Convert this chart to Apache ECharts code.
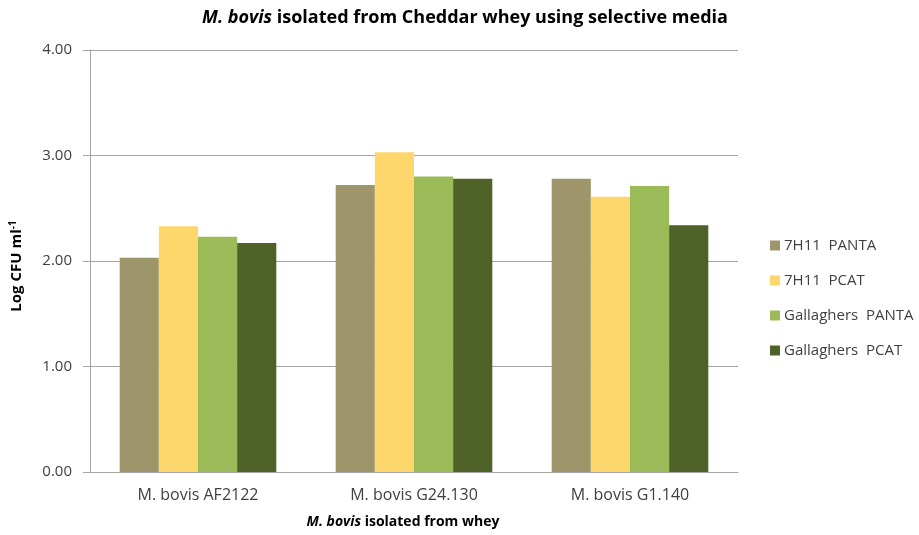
<!DOCTYPE html>
<html>
<head>
<meta charset="utf-8">
<script src="https://cdn.jsdelivr.net/npm/echarts@6/dist/echarts.min.js"></script>
<style>
  html, body { margin: 0; padding: 0; background: #fff; }
  #chart { width: 919px; height: 535px; }
</style>
</head>
<body>
<div id="chart"></div>
<script>
// Strains tested and log counts recovered on each selective medium
const strains = ['M. bovis AF2122', 'M. bovis G24.130', 'M. bovis G1.140'];
const panta7H11 = [2.03, 2.72, 2.78];
const pcat7H11 = [2.33, 3.03, 2.61];
const pantaGallaghers = [2.23, 2.80, 2.71];
const pcatGallaghers = [2.17, 2.78, 2.34];
const yTicks = [0, 1, 2, 3, 4];

const seriesNames = ['7H11  PANTA', '7H11  PCAT', 'Gallaghers  PANTA', 'Gallaghers  PCAT'];
const seriesColors = ['#9e966a', '#fdd76b', '#9bbb59', '#4f6228'];
const seriesData = [panta7H11, pcat7H11, pantaGallaghers, pcatGallaghers];

const FONT = '"Open Sans", "Noto Sans", sans-serif';
const chart = echarts.init(document.getElementById('chart'));

chart.setOption({
  animation: false,
  textStyle: { fontFamily: FONT },
  title: {
    text: '{i|M. bovis}{n| isolated from Cheddar whey using selective media}',
    left: 460,
    textAlign: 'center',
    top: 4,
    textStyle: {
      rich: {
        i: { fontFamily: FONT, fontSize: 18, fontWeight: 'bold', fontStyle: 'italic', color: '#000' },
        n: { fontFamily: FONT, fontSize: 18, fontWeight: 'bold', color: '#000' }
      }
    }
  },
  legend: {
    orient: 'vertical',
    left: 765,
    top: 233,
    itemWidth: 10,
    itemHeight: 10,
    itemGap: 20,
    icon: 'rect',
    textStyle: { fontFamily: FONT, fontSize: 15, color: '#404040', padding: [0, 0, 0, -1] },
    data: seriesNames
  },
  grid: { left: 84, right: 181, top: 50, bottom: 63, containLabel: false },
  xAxis: {
    type: 'category',
    data: strains,
    name: '{i|M. bovis}{n| isolated from whey}',
    nameLocation: 'middle',
    nameGap: 43,
    nameTextStyle: {
      padding: [0, 22, 0, 0],
      rich: {
        i: { fontFamily: FONT, fontSize: 14, fontWeight: 'bold', fontStyle: 'italic', color: '#000' },
        n: { fontFamily: FONT, fontSize: 14, fontWeight: 'bold', color: '#000' }
      }
    },
    axisLine: { lineStyle: { color: '#a6a6a6', width: 1 } },
    axisTick: { show: false },
    axisLabel: { fontFamily: FONT, fontSize: 16, color: '#404040', margin: 15 }
  },
  yAxis: {
    type: 'value',
    min: yTicks[0],
    max: yTicks[yTicks.length - 1],
    interval: 1,
    name: '{b|Log CFU ml}{s|-1}',
    nameLocation: 'middle',
    nameRotate: 90,
    nameGap: 65,
    nameTextStyle: {
      padding: [0, 10, 0, 0],
      rich: {
        b: { fontFamily: FONT, fontSize: 15, fontWeight: 'bold', color: '#000' },
        s: { fontFamily: FONT, fontSize: 10, fontWeight: 'bold', color: '#000', verticalAlign: 'top', padding: [0, 0, 7, 0] }
      }
    },
    axisLine: { show: true, lineStyle: { color: '#a6a6a6', width: 1 } },
    axisTick: { show: true, length: 7, lineStyle: { color: '#a6a6a6' } },
    axisLabel: { fontFamily: FONT, fontSize: 15, color: '#404040', margin: 18, formatter: v => v.toFixed(2) },
    splitLine: { show: true, lineStyle: { color: '#a6a6a6', width: 1 } }
  },
  series: seriesNames.map((name, i) => ({
    name,
    type: 'bar',
    data: seriesData[i],
    itemStyle: { color: seriesColors[i] },
    barGap: '0%',
    barCategoryGap: '27.5%'
  }))
});
</script>
</body>
</html>
